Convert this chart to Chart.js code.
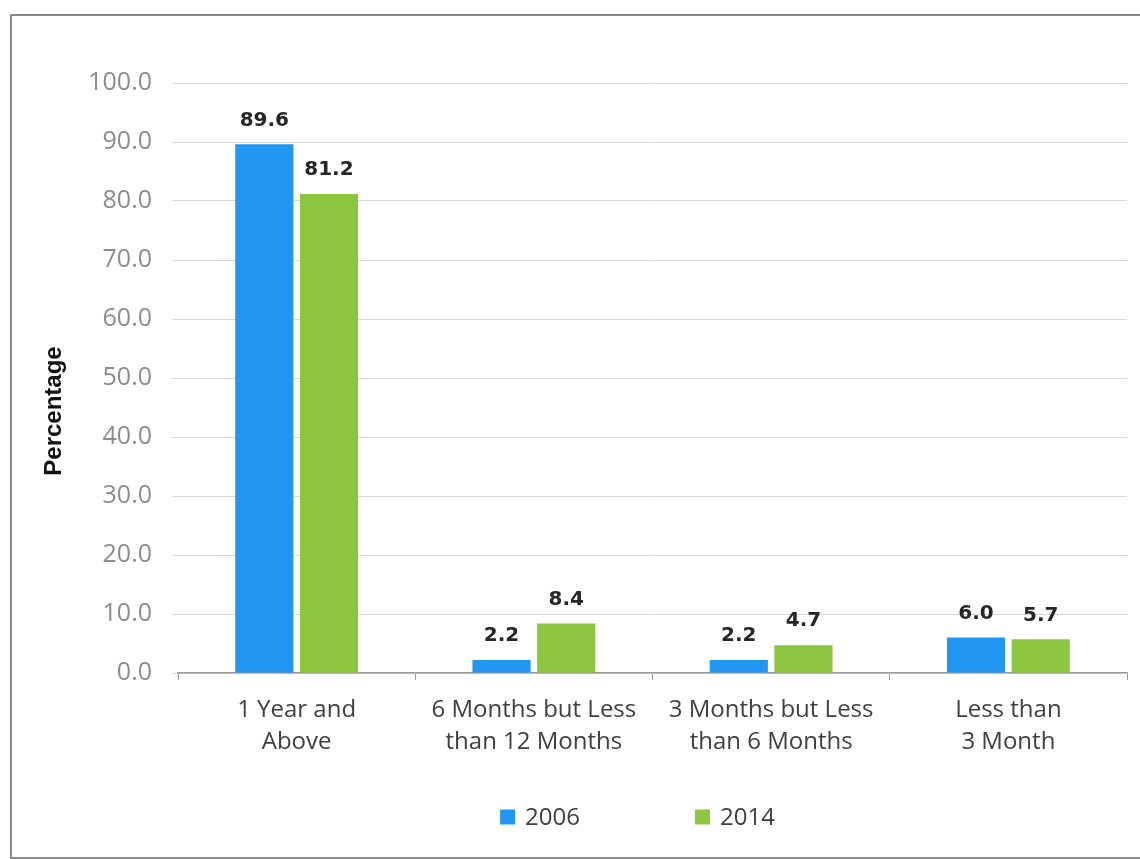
<!DOCTYPE html>
<html>
<head>
<meta charset="utf-8">
<script src="https://cdn.jsdelivr.net/npm/chart.js@4.4.1/dist/chart.umd.min.js"></script>
<style>
    body { margin: 0; background: #fff; }
    #wrap { position: relative; width: 1140px; height: 859px; overflow: hidden; }
    #frame {
        position: absolute; left: 10px; top: 14px; width: 1200px; height: 841px;
        border: 2px solid #8a8a8a; pointer-events: none;
    }
</style>
</head>
<body>
<div id="wrap">
    <canvas id="grafico" width="1140" height="859"></canvas>
    <div id="frame"></div>
</div>
<script>
const categorias = [
    ["1 Year and", "Above"],
    ["6 Months but Less", "than 12 Months"],
    ["3 Months but Less", "than 6 Months"],
    ["Less than", "3 Month"]
];
const valores2006 = [89.6, 2.2, 2.2, 6.0];
const valores2014 = [81.2, 8.4, 4.7, 5.7];
const rotulosY = [0, 10, 20, 30, 40, 50, 60, 70, 80, 90, 100];
const tituloY = "Percentage";

const corAzul = "#2196f3";
const corVerde = "#8cc63f";

// rotulos de valor acima das barras
const rotulosValor = {
    id: "rotulosValor",
    afterDatasetsDraw(chart) {
        const ctx = chart.ctx;
        ctx.save();
        ctx.font = "bold 20px 'DejaVu Sans'";
        ctx.fillStyle = "#262626";
        ctx.textAlign = "center";
        ctx.textBaseline = "bottom";
        chart.data.datasets.forEach(function (ds, i) {
            chart.getDatasetMeta(i).data.forEach(function (barra, j) {
                ctx.fillText(ds.data[j].toFixed(1), barra.x, barra.y - 14);
            });
        });
        ctx.restore();
    }
};

// titulo do eixo y e legenda desenhados a mao
const extras = {
    id: "extras",
    afterDraw(chart) {
        const ctx = chart.ctx;
        const area = chart.chartArea;
        ctx.save();

        ctx.translate(54, (area.top + area.bottom) / 2 + 33);
        ctx.rotate(-Math.PI / 2);
        ctx.font = "bold 24px 'Liberation Sans'";
        ctx.fillStyle = "#111";
        ctx.textAlign = "center";
        ctx.textBaseline = "middle";
        ctx.fillText(tituloY, 0, 0);
        ctx.setTransform(1, 0, 0, 1, 0, 0);

        const centro = (area.left + area.right) / 2 - 15;
        const yLeg = 817;
        ctx.font = "24px 'Open Sans'";
        ctx.textBaseline = "middle";
        ctx.textAlign = "left";
        const itens = chart.data.datasets.map(function (ds) {
            return { texto: ds.label, cor: ds.backgroundColor, w: 15 + 10 + ctx.measureText(ds.label).width };
        });
        const gap = 115;
        let total = gap * (itens.length - 1);
        itens.forEach(function (it) { total += it.w; });
        let x = centro - total / 2;
        itens.forEach(function (it) {
            ctx.fillStyle = it.cor;
            ctx.fillRect(x, yLeg - 7.5, 15, 15);
            ctx.fillStyle = "#404040";
            ctx.fillText(it.texto, x + 25, yLeg + 1);
            x += it.w + gap;
        });
        ctx.restore();
    }
};

new Chart(document.getElementById("grafico"), {
    type: "bar",
    data: {
        labels: categorias,
        datasets: [
            { label: "2006", data: valores2006, backgroundColor: corAzul },
            { label: "2014", data: valores2014, backgroundColor: corVerde }
        ]
    },
    options: {
        responsive: false,
        animation: false,
        categoryPercentage: 0.545,
        barPercentage: 0.9,
        layout: { padding: { left: 20, right: 13, top: 83, bottom: 76 } },
        plugins: {
            legend: { display: false },
            tooltip: { enabled: false }
        },
        scales: {
            x: {
                grid: {
                    display: true,
                    drawOnChartArea: false,
                    drawTicks: true,
                    tickLength: 7,
                    color: "#9a9a9a"
                },
                border: { color: "#9a9a9a", width: 1.5 },
                ticks: {
                    color: "#404040",
                    padding: 14,
                    font: { family: "Open Sans", size: 24, lineHeight: 1.33 }
                },
                afterFit(scale) { scale.height = 110; }
            },
            y: {
                min: 0,
                max: 100,
                afterBuildTicks(scale) {
                    scale.ticks = rotulosY.map(function (v) { return { value: v }; });
                },
                grid: {
                    color: "#d9d9d9",
                    tickLength: 6,
                    drawTicks: true
                },
                border: { display: false },
                ticks: {
                    color: "#8c8c8c",
                    padding: 20,
                    font: { family: "Open Sans", size: 25 },
                    callback: function (v) { return Number(v).toFixed(1); }
                },
                afterFit(scale) { scale.width = 158; }
            }
        }
    },
    plugins: [rotulosValor, extras]
});
</script>
</body>
</html>
